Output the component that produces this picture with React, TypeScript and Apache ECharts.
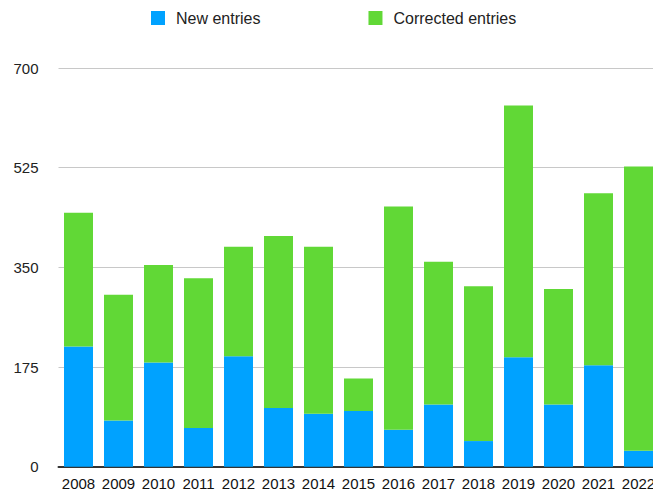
import React, { useEffect, useRef } from "react";
import * as echarts from "echarts";

const years = ["2008", "2009", "2010", "2011", "2012", "2013", "2014", "2015", "2016", "2017", "2018", "2019", "2020", "2021", "2022"];
const newEntries = [211, 81, 183, 68, 194, 103, 93, 98, 65, 109, 45, 192, 109, 178, 28];
const correctedEntries = [235, 221, 171, 263, 192, 302, 293, 57, 392, 251, 272, 442, 203, 302, 499];
const yTicks = { min: 0, max: 700, interval: 175 };

const FONT = "'Liberation Sans', Arial, Helvetica, sans-serif";

export default function App() {
  const ref = useRef<HTMLDivElement>(null);
  useEffect(() => {
    if (!ref.current) return;
    const chart = echarts.init(ref.current, undefined, { renderer: "svg" });
    chart.setOption({
      animation: false,
      backgroundColor: "#ffffff",
      textStyle: { fontFamily: FONT },
      legend: {
        left: 151,
        top: 10,
        padding: 0,
        itemWidth: 14,
        itemHeight: 14,
        itemGap: 108,
        icon: "rect",
        textStyle: { fontSize: 16, color: "#222", fontFamily: FONT, padding: [2, 0, 0, 6] },
        data: ["New entries", "Corrected entries"],
      },
      grid: { left: 58.5, right: 1.5, top: 68, bottom: 25.3, containLabel: false },
      xAxis: {
        type: "category",
        data: years,
        axisLine: { show: true, lineStyle: { color: "#333", width: 2 } },
        axisTick: { show: false },
        axisLabel: { fontSize: 15, color: "#111", margin: 9, fontFamily: FONT, interval: 0 },
      },
      yAxis: {
        type: "value",
        min: yTicks.min,
        max: yTicks.max,
        interval: yTicks.interval,
        axisLine: { show: false },
        axisTick: { show: false },
        axisLabel: { fontSize: 15, color: "#222", margin: 20, fontFamily: FONT },
        splitLine: { lineStyle: { color: "#c8c8c8", width: 1 } },
      },
      series: [
        {
          name: "New entries",
          type: "bar",
          stack: "total",
          data: newEntries,
          barWidth: 29,
          itemStyle: { color: "#00A2FF" },
        },
        {
          name: "Corrected entries",
          type: "bar",
          stack: "total",
          data: correctedEntries,
          barWidth: 29,
          itemStyle: { color: "#61D836" },
        },
      ],
    });
    return () => chart.dispose();
  }, []);
  return (
    <div style={{ position: "absolute", left: 0, top: 0, width: 653, height: 492, overflow: "hidden" }}>
      <div ref={ref} style={{ width: 660, height: 492 }} />
    </div>
  );
}
